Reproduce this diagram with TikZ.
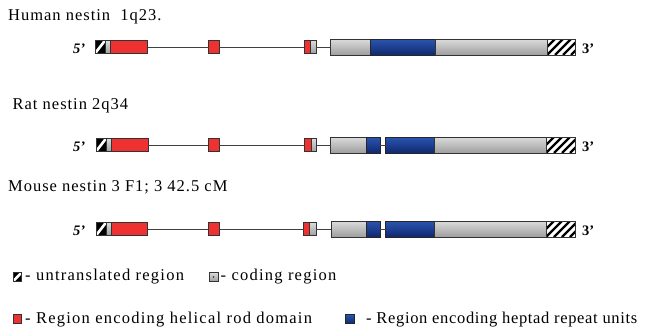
\documentclass[tikz,border=0pt]{standalone}
\usepackage{fontspec}
\setmainfont{Liberation Serif}
\definecolor{exred}{HTML}{EE3232}
\definecolor{bluetop}{HTML}{2A55B0}
\definecolor{bluebot}{HTML}{10286E}
\tikzset{
  seg/.style={draw=black!80, line width=0.8pt, inner sep=0pt, outer sep=0pt, anchor=west},
  redbox/.style={seg, fill=exred},
  greybox/.style={seg, top color=black!14, middle color=black!3, bottom color=black!38},
  bluebox/.style={seg, top color=bluetop, bottom color=bluebot, draw=black!85},
  hatchbig/.style={seg, fill=white, path picture={
      \foreach \i in {-48,-40,...,48}
        \draw[line width=2.3pt, black] ([xshift=\i pt]path picture bounding box.south west) -- ++(30pt,30pt);}},
  hatchsmall/.style={seg, fill=black, path picture={
      \draw[line width=2.6pt, white] (path picture bounding box.south west) -- (path picture bounding box.north east);}},
  intron/.style={draw=black!75, line width=0.8pt},
  title/.style={anchor=base west, inner sep=0pt, font=\fontsize{16.5}{18}\selectfont\addfontfeature{LetterSpace=6}},
  legtext/.style={anchor=base west, inner sep=0pt, font=\fontsize{16.5}{18}\selectfont\addfontfeature{LetterSpace=7.5}},
  endlab/.style={anchor=base west, inner sep=0pt, font=\bfseries\fontsize{14.5}{16}\selectfont},
  endlabit/.style={endlab, font=\bfseries\itshape\fontsize{14.5}{16}\selectfont},
}
\begin{document}
\begin{tikzpicture}[x=1pt, y=-1pt]
\useasboundingbox (0,0) rectangle (649,327);
\fill[white] (0,0) rectangle (649,327);

% ---------- Row 1: Human ----------
\node[title] (t1) at (8,20) {Human nestin\ \ 1q23.};
\node[endlabit] (h5) at (73,53) {5’};
\node[hatchsmall, minimum width=10pt, minimum height=13pt] (h1u) at (95,47) {};
\node[greybox, minimum width=5pt, minimum height=13pt] (h1c) at (105,47) {};
\node[redbox, minimum width=37.7pt, minimum height=13pt] (h1r) at (110,47) {};
\node[redbox, minimum width=10.3pt, minimum height=13pt] (h1e2) at (208.7,47) {};
\node[redbox, minimum width=6.7pt, minimum height=13pt] (h1e3r) at (304,47) {};
\node[greybox, minimum width=5.3pt, minimum height=13pt] (h1e3c) at (310.7,47) {};
\node[greybox, minimum width=40pt, minimum height=16pt] (h1g1) at (330,47) {};
\node[bluebox, minimum width=65.7pt, minimum height=16pt] (h1b) at (370,47) {};
\node[greybox, minimum width=111.3pt, minimum height=16pt] (h1g2) at (435.7,47) {};
\node[hatchbig, minimum width=28pt, minimum height=16pt] (h1u3) at (547,47) {};
\node[endlab] (h3) at (582,53) {3’};
\draw[intron] (h1r.east) -- (h1e2.west);
\draw[intron] (h1e2.east) -- (h1e3r.west);
\draw[intron] (h1e3c.east) -- (h1g1.west);

% ---------- Row 2: Rat ----------
\node[title] (t2) at (12.5,109.3) {Rat nestin 2q34};
\node[endlabit] (r5) at (73,151.5) {5’};
\node[hatchsmall, minimum width=10pt, minimum height=13pt] (r2u) at (96,145) {};
\node[greybox, minimum width=5pt, minimum height=13pt] (r2c) at (106,145) {};
\node[redbox, minimum width=37.3pt, minimum height=13pt] (r2r) at (111,145) {};
\node[redbox, minimum width=11pt, minimum height=13pt] (r2e2) at (208.3,145) {};
\node[redbox, minimum width=6.5pt, minimum height=13pt] (r2e3r) at (304.5,145) {};
\node[greybox, minimum width=5.5pt, minimum height=13pt] (r2e3c) at (311,145) {};
\node[greybox, minimum width=36pt, minimum height=16pt] (r2g1) at (330.7,145) {};
\node[bluebox, minimum width=13.3pt, minimum height=16pt] (r2b1) at (366.7,145) {};
\node[bluebox, minimum width=48.3pt, minimum height=16pt] (r2b2) at (385.7,145) {};
\node[greybox, minimum width=112pt, minimum height=16pt] (r2g2) at (434,145) {};
\node[hatchbig, minimum width=29pt, minimum height=16pt] (r2u3) at (546,145) {};
\node[endlab] (r3) at (582,151.5) {3’};
\draw[intron] (r2r.east) -- (r2e2.west);
\draw[intron] (r2e2.east) -- (r2e3r.west);
\draw[intron] (r2e3c.east) -- (r2g1.west);
\draw[intron] (r2b1.east) -- (r2b2.west);

% ---------- Row 3: Mouse ----------
\node[title] (t3) at (8,191.7) {Mouse nestin 3 F1; 3 42.5 cM};
\node[endlabit] (m5) at (73,235.5) {5’};
\node[hatchsmall, minimum width=10pt, minimum height=13pt] (m3u) at (96,229) {};
\node[greybox, minimum width=5pt, minimum height=13pt] (m3c) at (106,229) {};
\node[redbox, minimum width=36.7pt, minimum height=13pt] (m3r) at (111,229) {};
\node[redbox, minimum width=11pt, minimum height=13pt] (m3e2) at (208.3,229) {};
\node[redbox, minimum width=6.3pt, minimum height=13pt] (m3e3r) at (303.5,229) {};
\node[greybox, minimum width=6.2pt, minimum height=13pt] (m3e3c) at (309.8,229) {};
\node[greybox, minimum width=35.7pt, minimum height=16pt] (m3g1) at (331,229) {};
\node[bluebox, minimum width=13.3pt, minimum height=16pt] (m3b1) at (366.7,229) {};
\node[bluebox, minimum width=48.3pt, minimum height=16pt] (m3b2) at (385.7,229) {};
\node[greybox, minimum width=112pt, minimum height=16pt] (m3g2) at (434,229) {};
\node[hatchbig, minimum width=29pt, minimum height=16pt] (m3u3) at (546,229) {};
\node[endlab] (m3) at (582,235.5) {3’};
\draw[intron] (m3r.east) -- (m3e2.west);
\draw[intron] (m3e2.east) -- (m3e3r.west);
\draw[intron] (m3e3c.east) -- (m3g1.west);
\draw[intron] (m3b1.east) -- (m3b2.west);

% ---------- Legend ----------
\node[hatchsmall, minimum width=8.5pt, minimum height=9pt] (lu) at (13,277) {};
\node[legtext] (lut) at (25,280) {- untranslated region};
\node[greybox, minimum width=9pt, minimum height=9pt] (lc) at (209,277) {};
\fill[black!85] (lc.center) circle (0.8pt);
\node[legtext] (lct) at (220.5,280) {- coding region};
\node[redbox, minimum width=8.5pt, minimum height=9.5pt] (lr) at (13,319) {};
\node[legtext] (lrt) at (25,323.3) {- Region encoding helical rod domain};
\node[bluebox, minimum width=9pt, minimum height=9.5pt] (lb) at (345,319) {};
\node[legtext, font=\fontsize{16.5}{18}\selectfont\addfontfeature{LetterSpace=4}] (lbt) at (366,323.3) {- Region encoding heptad repeat units};
\end{tikzpicture}
\end{document}
